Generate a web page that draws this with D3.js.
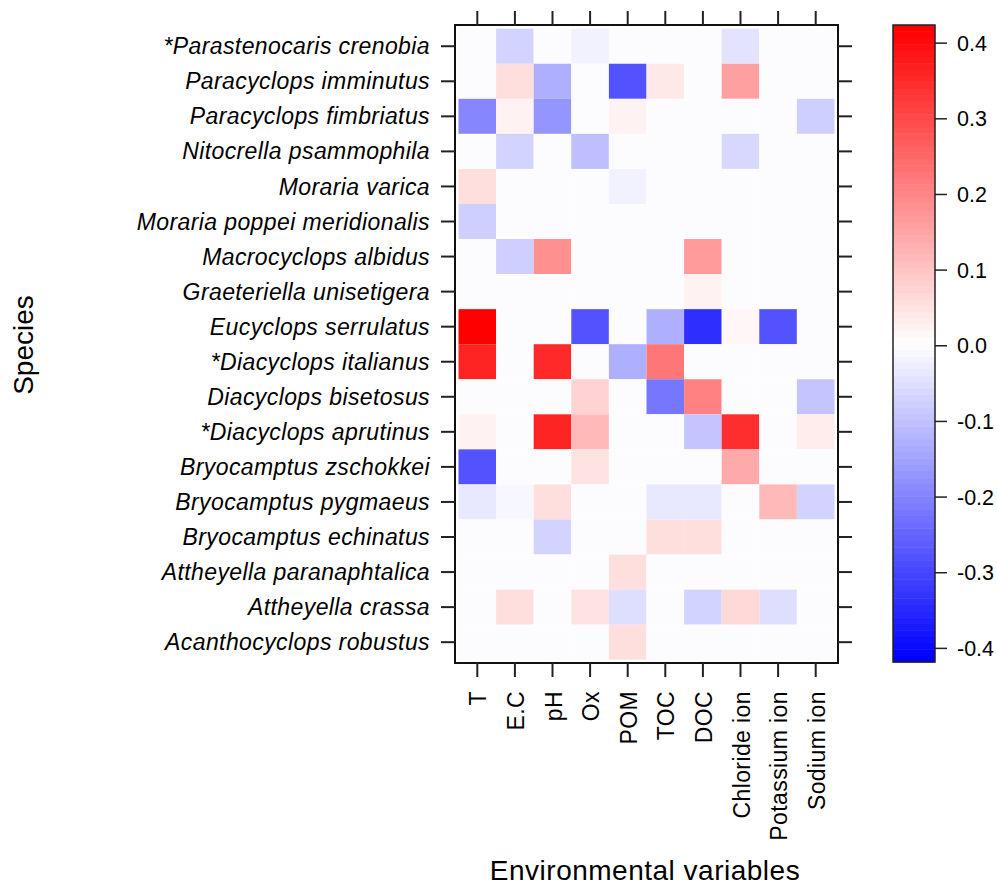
<!DOCTYPE html>
<html>
<head>
<meta charset="utf-8">
<script src="https://cdn.jsdelivr.net/npm/d3@7"></script>
<style>
  body { margin: 0; background: #fff; }
  svg text { font-family: "Liberation Sans", Arial, sans-serif; fill: #000; }
</style>
</head>
<body>
<svg id="chart" width="997" height="886"></svg>
<script>
// species, top to bottom
const species = [
  '*Parastenocaris crenobia', 'Paracyclops imminutus', 'Paracyclops fimbriatus',
  'Nitocrella psammophila', 'Moraria varica', 'Moraria poppei meridionalis',
  'Macrocyclops albidus', 'Graeteriella unisetigera', 'Eucyclops serrulatus',
  '*Diacyclops italianus', 'Diacyclops bisetosus', '*Diacyclops aprutinus',
  'Bryocamptus zschokkei', 'Bryocamptus pygmaeus', 'Bryocamptus echinatus',
  'Attheyella paranaphtalica', 'Attheyella crassa', 'Acanthocyclops robustus'
]
const variables = ['T', 'E.C', 'pH', 'Ox', 'POM', 'TOC', 'DOC', 'Chloride ion', 'Potassium ion', 'Sodium ion']

// one row per species, one value per variable
const values = [
  [0, -0.065, 0, -0.02, 0, 0, 0, -0.04, 0, 0],
  [0, 0.055, -0.13, 0.002, -0.275, 0.04, 0, 0.155, 0, 0],
  [-0.195, 0.02, -0.17, 0, 0.02, 0, 0, 0, 0, -0.077],
  [0, -0.065, 0, -0.104, 0, 0, 0, -0.057, 0, 0],
  [0.055, 0, 0, 0, -0.02, 0, 0, 0, 0, 0],
  [-0.077, 0, 0, 0, 0, 0, 0, 0, 0, 0],
  [0, -0.077, 0.18, 0, 0, 0, 0.163, 0, 0, 0],
  [0, 0, 0, 0, 0, 0, 0.02, 0, 0, 0],
  [0.42, 0, 0, -0.28, 0, -0.13, -0.336, 0.013, -0.28, 0],
  [0.36, 0, 0.355, 0.002, -0.13, 0.222, 0, 0, 0, 0],
  [0, 0, 0, 0.077, 0, -0.216, 0.21, 0, 0, -0.09],
  [0.02, 0, 0.36, 0.117, 0, 0, -0.09, 0.34, 0, 0.034],
  [-0.28, 0, 0, 0.05, 0, 0, 0, 0.143, 0, 0],
  [-0.034, -0.01, 0.055, 0, 0, -0.034, -0.034, 0, 0.117, -0.065],
  [0, 0, -0.065, 0, 0, 0.055, 0.058, 0, 0, 0],
  [0, 0, 0, 0, 0.055, 0, 0, 0, 0, 0],
  [0, 0.055, 0, 0.05, -0.05, 0, -0.065, 0.07, -0.05, 0],
  [0, 0, 0, 0, 0.055, 0, 0, 0, 0, 0]
]

const legendTicks = [0.4, 0.3, 0.2, 0.1, 0.0, -0.1, -0.2, -0.3, -0.4]
const colorDomain = [-0.418, 0.424]

const svg = d3.select('#chart')

// blue - white - red ramp cut into bins, zero falls in the bin just below
const nCols = 100
const ramp = d3.scaleLinear().domain([0, 0.5, 1]).range(['#0000ff', '#ffffff', '#ff0000'])
const palette = d3.range(nCols).map(i => ramp(i / (nCols - 1)))
const binColor = v => {
  const t = (v - colorDomain[0]) / (colorDomain[1] - colorDomain[0])
  const i = Math.max(0, Math.min(nCols - 1, Math.ceil(t * nCols) - 1))
  return palette[i]
}

const x = d3.scaleBand().domain(variables).range([458.5, 834.5])
const y = d3.scaleBand().domain(species).range([28.7, 659.7])
const frame = {left: 455, right: 838, top: 25, bottom: 663}

// cells
const cells = []
values.forEach((row, i) => row.forEach((v, j) => cells.push({s: species[i], k: variables[j], v: v})))
svg.append('g')
  .selectAll('rect')
  .data(cells)
  .join('rect')
  .attr('x', d => x(d.k))
  .attr('y', d => y(d.s))
  .attr('width', x.bandwidth())
  .attr('height', y.bandwidth())
  .attr('fill', d => binColor(d.v))

// frame
svg.append('rect')
  .attr('x', frame.left).attr('y', frame.top)
  .attr('width', frame.right - frame.left).attr('height', frame.bottom - frame.top)
  .attr('fill', 'none').attr('stroke', '#111').attr('stroke-width', 2)

const tickLen = 14
const xc = d => x(d) + x.bandwidth() / 2
const yc = d => y(d) + y.bandwidth() / 2

// ticks on all four sides
const tk = svg.append('g').attr('stroke', '#222').attr('stroke-width', 2)
tk.selectAll('.tt').data(variables).join('line')
  .attr('x1', xc).attr('x2', xc).attr('y1', frame.top - tickLen).attr('y2', frame.top)
tk.selectAll('.tb').data(variables).join('line')
  .attr('x1', xc).attr('x2', xc).attr('y1', frame.bottom).attr('y2', frame.bottom + tickLen)
tk.selectAll('.tl').data(species).join('line')
  .attr('y1', yc).attr('y2', yc).attr('x1', frame.left - tickLen).attr('x2', frame.left)
tk.selectAll('.tr').data(species).join('line')
  .attr('y1', yc).attr('y2', yc).attr('x1', frame.right).attr('x2', frame.right + tickLen)

// species labels
svg.append('g').selectAll('text').data(species).join('text')
  .attr('x', 430)
  .attr('y', yc)
  .attr('dy', '0.35em')
  .attr('text-anchor', 'end')
  .style('font-style', 'italic')
  .style('font-size', '23px')
  .style('letter-spacing', '0.4px')
  .text(d => d)

// variable labels
svg.append('g').selectAll('text').data(variables).join('text')
  .attr('transform', d => 'translate(' + (xc(d) + 1) + ',' + 691 + ') rotate(-90)')
  .attr('dy', '0.35em')
  .attr('text-anchor', 'end')
  .style('font-size', '23px')
  .style('letter-spacing', '0.4px')
  .text(d => d)

// axis titles
svg.append('text')
  .attr('transform', 'translate(33,345) rotate(-90)')
  .attr('text-anchor', 'middle')
  .style('font-size', '28px')
  .text('Species')
svg.append('text')
  .attr('x', 645).attr('y', 880)
  .attr('text-anchor', 'middle')
  .style('font-size', '28px')
  .style('letter-spacing', '0.5px')
  .text('Environmental variables')

// colour key
const key = {left: 893, right: 935, top: 25, bottom: 662}
const ky = d3.scaleLinear().domain(colorDomain).range([key.bottom, key.top])
const kg = svg.append('g')
kg.selectAll('rect').data(palette).join('rect')
  .attr('x', key.left)
  .attr('width', key.right - key.left)
  .attr('y', (d, i) => ky(colorDomain[0] + (i + 1) * (colorDomain[1] - colorDomain[0]) / nCols))
  .attr('height', (key.bottom - key.top) / nCols + 0.5)
  .attr('fill', d => d)
kg.append('rect')
  .attr('x', key.left).attr('y', key.top)
  .attr('width', key.right - key.left).attr('height', key.bottom - key.top)
  .attr('fill', 'none').attr('stroke', '#222').attr('stroke-width', 1.5)
kg.selectAll('line').data(legendTicks).join('line')
  .attr('x1', key.right).attr('x2', key.right + 12)
  .attr('y1', d => ky(d)).attr('y2', d => ky(d))
  .attr('stroke', '#222').attr('stroke-width', 1.5)
kg.selectAll('text').data(legendTicks).join('text')
  .attr('x', 957)
  .attr('y', d => ky(d))
  .attr('dy', '0.35em')
  .style('font-size', '21.5px')
  .text(d => d.toFixed(1))
</script>
</body>
</html>
